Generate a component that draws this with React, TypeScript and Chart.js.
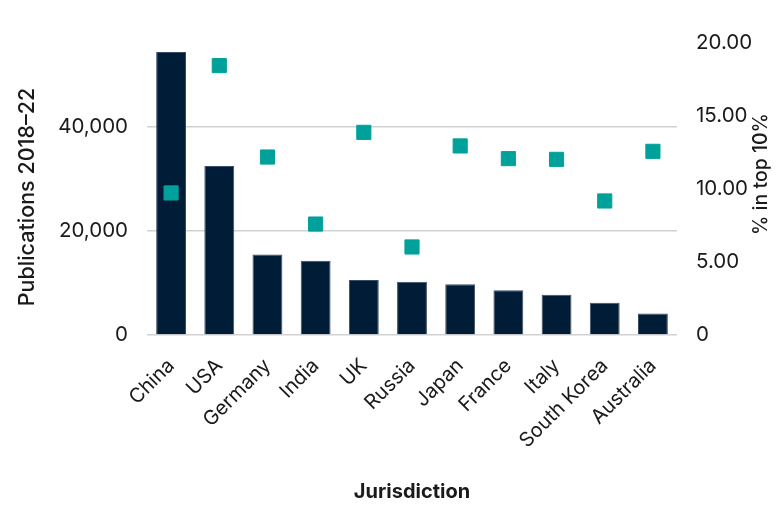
import React, { useEffect, useRef } from "react";
import Chart from "chart.js/auto";

// values
const jurisdictions = [
  "China",
  "USA",
  "Germany",
  "India",
  "UK",
  "Russia",
  "Japan",
  "France",
  "Italy",
  "South Korea",
  "Australia",
];
const publications = [54400, 32500, 15500, 14300, 10600, 10250, 9750, 8600, 7750, 6200, 4150];
const topTenShare = [9.73, 18.45, 12.19, 7.6, 13.88, 6.03, 12.95, 12.08, 12.03, 9.18, 12.58];
const leftTicks = [0, 20000, 40000];
const rightTicks = [0, 5, 10, 15, 20];

const FONT = "Inter";
const TEXT = "#1a1a1a";
const NAVY = "#001c37";
const TEAL = "#00a19a";

const titlePlugin = {
  id: "axisTitles",
  afterDraw(chart: Chart) {
    const { ctx, chartArea } = chart;
    const midY = (chartArea.top + chartArea.bottom) / 2;
    ctx.save();
    ctx.fillStyle = TEXT;
    ctx.textAlign = "center";
    ctx.textBaseline = "alphabetic";

    ctx.font = `500 21.5px ${FONT}`;
    ctx.save();
    ctx.translate(34, midY + 8);
    ctx.rotate(-Math.PI / 2);
    ctx.fillText("Publications 2018–22", 0, 0);
    ctx.restore();

    ctx.font = `500 19.5px ${FONT}`;
    ctx.save();
    ctx.translate(767, midY - 15);
    ctx.rotate(-Math.PI / 2);
    ctx.fillText("% in top 10%", 0, 0);
    ctx.restore();

    ctx.font = `bold 20px ${FONT}`;
    ctx.fillText("Jurisdiction", (chartArea.left + chartArea.right) / 2, 498);
    ctx.restore();
  },
};

const App = () => {
  const chartRef = useRef<HTMLCanvasElement>(null);
  const chartInstanceRef = useRef<Chart>();

  useEffect(() => {
    const ctx = chartRef.current!.getContext("2d");
    if (chartInstanceRef.current) {
      chartInstanceRef.current.destroy();
    }
    if (!ctx) return;

    chartInstanceRef.current = new Chart(ctx, {
      type: "bar",
      data: {
        labels: jurisdictions,
        datasets: [
          {
            type: "line",
            label: "% in top 10%",
            data: topTenShare,
            yAxisID: "y1",
            showLine: false,
            pointStyle: "rect",
            pointRadius: 10,
            pointBackgroundColor: TEAL,
            pointBorderColor: TEAL,
            pointBorderWidth: 1,
            order: 1,
          },
          {
            type: "bar",
            label: "Publications 2018–22",
            data: publications,
            yAxisID: "y",
            backgroundColor: NAVY,
            borderColor: "#3a4d66",
            borderWidth: 1,
            barPercentage: 0.62,
            categoryPercentage: 1,
            order: 2,
          },
        ],
      },
      options: {
        animation: false,
        responsive: true,
        maintainAspectRatio: false,
        layout: { padding: { top: 43, left: 0, right: 0, bottom: 0 } },
        plugins: {
          legend: { display: false },
          tooltip: { enabled: false },
        },
        scales: {
          x: {
            grid: { display: false },
            border: { display: false },
            ticks: {
              autoSkip: false,
              maxRotation: 45,
              minRotation: 45,
              padding: 11,
              color: TEXT,
              font: { family: FONT, size: 20 },
            },
            afterFit: (s: any) => {
              s.height = 185;
            },
          },
          y: {
            position: "left",
            min: 0,
            max: 56150,
            afterBuildTicks: (s: any) => {
              s.ticks = leftTicks.map((v) => ({ value: v }));
            },
            afterFit: (s: any) => {
              s.width = 147;
            },
            grid: { color: "#d2d2d2", lineWidth: 1.5, drawTicks: false },
            border: { display: false },
            ticks: {
              padding: 19,
              color: TEXT,
              font: { family: FONT, size: 20.5 },
              callback: (v: any) => Number(v).toLocaleString("en-US"),
            },
          },
          y1: {
            position: "right",
            min: 0,
            max: 20,
            afterBuildTicks: (s: any) => {
              s.ticks = rightTicks.map((v) => ({ value: v }));
            },
            afterFit: (s: any) => {
              s.width = 103;
            },
            grid: { display: false },
            border: { display: false },
            ticks: {
              padding: 11,
              color: TEXT,
              font: { family: FONT, size: 20.5 },
              callback: (v: any) => (Number(v) === 0 ? "0" : Number(v).toFixed(2)),
            },
          },
        },
      },
      plugins: [titlePlugin],
    });

    return () => {
      if (chartInstanceRef.current) {
        chartInstanceRef.current.destroy();
        chartInstanceRef.current = undefined;
      }
    };
  }, []);

  return (
    <div
      style={{
        position: "absolute",
        top: 0,
        left: 0,
        width: "780px",
        height: "520px",
        background: "#ffffff",
      }}
    >
      <canvas ref={chartRef} />
    </div>
  );
};

export default App;
